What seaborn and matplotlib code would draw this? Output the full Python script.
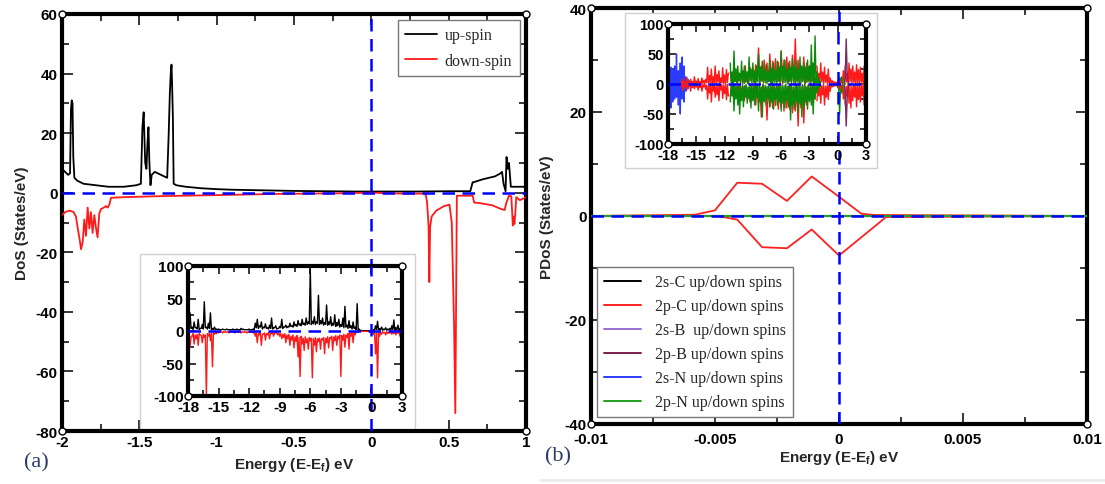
import numpy as np
import matplotlib
matplotlib.use('Agg')
import matplotlib.pyplot as plt
import seaborn as sns
from matplotlib.ticker import MultipleLocator, FuncFormatter
from matplotlib.patches import Rectangle
from matplotlib.lines import Line2D

# ---------------- data: panel (a) main ----------------
up_E = [-2.00, -1.98, -1.96, -1.948, -1.942, -1.937, -1.932, -1.927, -1.92, -1.90,
        -1.86, -1.78, -1.70, -1.60, -1.52, -1.49, -1.48, -1.472, -1.462, -1.454,
        -1.448, -1.441, -1.435, -1.428, -1.42, -1.40, -1.36, -1.32, -1.31, -1.303,
        -1.297, -1.292, -1.288, -1.283, -1.278, -1.26, -1.20, -1.10, -1.00, -0.90,
        -0.70, -0.50, -0.30, -0.10, 0.10, 0.30, 0.50, 0.64, 0.655, 0.66,
        0.72, 0.80, 0.835, 0.845, 0.855, 0.868, 0.874, 0.879, 0.884, 0.89,
        0.896, 0.902, 0.91, 0.93, 0.96, 1.00]
up_D = [8, 7, 6, 6.5, 28, 31, 30, 12, 5, 4,
        3, 2.5, 2, 2, 2.5, 3, 22, 27, 10, 8,
        16, 22, 10, 2.5, 6, 7, 6, 5, 20, 33,
        40, 43, 36, 25, 3, 2.5, 2, 1.5, 1.2, 1.0,
        0.8, 0.6, 0.5, 0.4, 0.4, 0.4, 0.5, 0.5, 3.5, 3.5,
        4.5, 5.5, 6.5, 7, 3, 0.5, 12, 10, 8, 10,
        6, 2, 2, 2, 2, 2]

dn_E = [-2.00, -1.98, -1.95, -1.925, -1.91, -1.898, -1.885, -1.877, -1.866, -1.856,
        -1.845, -1.834, -1.823, -1.813, -1.802, -1.791, -1.78, -1.77, -1.759, -1.748,
        -1.73, -1.716, -1.705, -1.694, -1.683, -1.60, -1.40, -1.20, -1.00, -0.80,
        -0.60, -0.40, -0.20, 0.00, 0.20, 0.35, 0.36, 0.37, 0.375, 0.38,
        0.39, 0.42, 0.47, 0.505, 0.52, 0.526, 0.535, 0.543, 0.547, 0.553,
        0.60, 0.655, 0.665, 0.70, 0.78, 0.84, 0.862, 0.872, 0.89, 0.905,
        0.915, 0.92, 0.925, 0.93, 0.937, 0.96, 1.00]
dn_D = [-7.5, -6.5, -6, -6.5, -8, -12, -16, -19, -16.5, -9,
        -14.5, -5, -12, -6.5, -13.5, -7.5, -12, -15, -7, -5.5,
        -5, -4.5, -5, -4, -1.7, -1.5, -1.2, -1.0, -0.8, -0.6,
        -0.4, -0.3, -0.2, 0, -0.3, -0.3, -3, -11, -30, -11.5,
        -8, -6, -4.5, -4, -10, -24, -45, -74, -45, -1,
        -1, -1, -3.3, -3.5, -4.2, -5.5, -5.8, -3.5, -1, -1.2,
        -11, -8, -10.5, -7.5, -1.5, -2.5, -1.5]

# ---------------- data: panel (a) inset ----------------
# peaks sampled at -18.0, -17.8, ... 3.0 ; troughs sampled midway (-17.9, -17.7, ... 2.9)
insA_start, insA_step = -18.0, 0.2
insA_up = [8, 28, 6, 14, 5, 18, 4, 10, 45, 6,
           12, 28, 4, 6, 3, 3, 2, 3, 2, 3,
           2, 2, 3, 2, 3, 2, 4, 3, 2, 2,
           3, 2, 3, 12, 18, 8, 14, 6, 11, 5,
           9, 20, 5, 8, 4, 7, 18, 6, 9, 7,
           12, 8, 14, 10, 16, 11, 18, 12, 20, 14,
           95, 15, 22, 14, 55, 16, 20, 13, 40, 14,
           22, 12, 25, 13, 18, 10, 20, 38, 9, 16,
           8, 14, 6, 42, 3, 1, 0.5, 0.5, 0.5, 0.5,
           0.5, 2, 8, 15, 4, 6, 3, 5, 3, 4,
           8, 17, 5, 9, 4, 6]
insA_up_low = [3, 4, 2, 5, 3, 2, 4, 3, 5, 3,
               4, 2, 2, 2, 2, 2, 2, 2, 2, 2,
               2, 2, 2, 2, 2, 2, 2, 2, 2, 2,
               2, 2, 2, 5, 4, 6, 3, 5, 4, 3,
               4, 3, 5, 3, 4, 5, 4, 6, 5, 6,
               7, 6, 8, 7, 9, 8, 10, 9, 10, 11,
               10, 11, 10, 12, 10, 11, 9, 10, 9, 10,
               8, 9, 7, 8, 6, 7, 5, 6, 4, 5,
               3, 4, 2, 1, 0.5, 0.5, 0.5, 0.5, 0.5, 0.5,
               0.5, 1, 2, 1, 2, 1, 2, 1, 2, 1,
               2, 1, 2, 1, 2]
insA_dn = [-10, -25, -8, -20, -12, -22, -6, -18, -10, -100,
           -8, -15, -55, -5, -4, -3, -2, -3, -2, -2,
           -3, -2, -2, -3, -2, -2, -3, -2, -2, -3,
           -2, -2, -3, -8, -18, -6, -22, -5, -14, -6,
           -12, -4, -8, -3, -6, -8, -12, -10, -18, -12,
           -22, -14, -26, -16, -40, -70, -20, -30, -18, -28,
           -15, -72, -22, -32, -16, -28, -14, -35, -18, -26,
           -12, -30, -15, -22, -12, -70, -14, -25, -10, -28,
           -8, -18, -6, -2, -1, -0.5, -0.5, -0.5, -0.5, -0.5,
           -0.5, -5, -35, -72, -8, -5, -3, -6, -4, -3,
           -5, -4, -6, -3, -8, -12]
insA_dn_low = [-5, -8, -4, -6, -5, -4, -7, -5, -6, -4,
               -3, -4, -3, -2, -1, -1, -1, -1, -1, -1,
               -1, -1, -1, -1, -1, -1, -1, -1, -1, -1,
               -1, -1, -1, -3, -4, -2, -5, -3, -4, -2,
               -3, -2, -3, -2, -3, -4, -5, -4, -6, -5,
               -8, -6, -9, -7, -10, -8, -11, -9, -12, -10,
               -11, -12, -10, -12, -11, -12, -10, -11, -9, -10,
               -8, -9, -7, -8, -6, -7, -5, -6, -4, -3,
               -2, -2, -1, -0.5, -0.5, -0.5, -0.5, -0.5, -0.5, -0.5,
               -0.5, -1, -2, -3, -2, -1, -2, -1, -2, -1,
               -2, -1, -2, -1, -2]

# ---------------- data: panel (b) main ----------------
pC_up_E = [-0.0100, -0.0058, -0.0050, -0.0041, -0.0031, -0.0021, -0.0011, 0.0000, 0.0009, 0.0014, 0.0100]
pC_up_D = [0, 0.25, 1.1, 6.4, 6.2, 2.9, 7.6, 3.7, 0.45, 0.2, 0]
pC_dn_E = [-0.0100, -0.0049, -0.0041, -0.0031, -0.0021, -0.0011, 0.0000, 0.0019, 0.0100]
pC_dn_D = [0, 0, -0.7, -6.0, -6.2, -2.6, -7.6, -0.2, 0]
zero_E = [-0.0100, 0.0100]
zero_D = [0, 0]

legend_b = ['2s-C up/down spins', '2p-C up/down spins', '2s-B  up/down spins',
            '2p-B up/down spins', '2s-N up/down spins', '2p-N up/down spins']
colors_b = ['#000000', '#ff2020', '#9a6fd0', '#7a1f4f', '#2a3cff', '#22a022']

# ---------------- data: panel (b) inset ----------------
sN_start, sN_step = -18.0, 0.1
sN_up = [25, 30, 18, 28, 12, 25, 8, 30, 15, 50, 10, 22, 6, 35, 8, 45, 5, 30, 6, 12, 3, 8, 2, 5, 2, 3, 1]
sN_up_low = [2, 1, 3, 0, 2, 1, 2, 0, 2, 1, 0, 2, 1, 1, 0, 2, 1, 1, 0, 1, 0, 1, 0, 1, 0, 0]
sN_dn = [-28, -35, -20, -40, -15, -30, -10, -25, -12, -22, -8, -35, -6, -50, -8, -25, -5, -30, -4, -12, -3, -8, -2, -4, -2, -3, -1]
sN_dn_low = [-1, -3, 0, -2, -1, -2, 0, -3, -1, -1, -2, 0, -1, -1, -2, 0, -1, -1, 0, -1, 0, -1, 0, -1, 0, 0]

pCa_start, pCa_step = -16.6, 0.2
pCa_up = [4, 9, 3, 11, 5, 8, 4, 12, 5, 9, 4, 10, 6, 8, 28, 14, 25, 12, 30, 16, 22, 10, 27, 15, 24, 18]
pCa_up_low = [1, 0, 1, 0, 1, 1, 0, 1, 0, 1, 0, 1, 1, 2, 0, 3, 1, 2, 0, 3, 1, 2, 0, 1, 2]
pCa_dn = [-4, -11, -5, -9, -4, -12, -6, -8, -5, -10, -6, -12, -5, -9, -25, -15, -30, -12, -22, -18, -28, -10, -24, -16, -26, -20]
pCa_dn_low = [-1, 0, -1, -1, 0, -1, -1, 0, -1, -1, 0, -1, 0, -2, -3, 0, -2, -1, -3, 0, -2, -1, -3, 0, -1]
pCb_start, pCb_step = -11.4, 0.3
pCb_up = [20, 15, 25, 18, 22, 30, 20, 28, 25, 32, 60, 30, 40, 35, 50, 38, 42, 36, 55, 40, 45, 38, 48, 75, 40, 30, 45, 35, 30, 25, 28]
pCb_up_low = [2, 4, 0, 5, 1, 3, 0, 6, 2, 4, 0, 5, 2, 4, 1, 6, 3, 5, 0, 4, 2, 5, 1, 6, 2, 4, 0, 3, 1, 2]
pCb_dn = [-20, -18, -22, -25, -20, -28, -24, -30, -26, -35, -32, -55, -30, -60, -38, -40, -36, -42, -38, -45, -40, -42, -48, -45, -70, -40, -65, -35, -30, -28, -25]
pCb_dn_low = [-2, -1, -4, 0, -5, -2, -6, -1, -4, -3, -6, -1, -5, -3, -6, -2, -5, -3, -6, -2, -4, -1, -6, -3, -5, -1, -4, -2, -3, -1]
pCc_start, pCc_step = -2.2, 0.2
pCc_up = [30, 18, 35, 20, 28, 15, 25, 10, 6, 4, 3, 5, 8, 10, 22, 30, 18, 35, 25, 30, 20, 32, 24, 28, 18, 30, 22]
pCc_up_low = [3, 1, 4, 0, 3, 1, 2, 0, 1, 0, 0, 1, 0, 1, 2, 3, 0, 4, 1, 3, 0, 2, 1, 3, 0, 2]
pCc_dn = [-28, -20, -32, -18, -35, -22, -26, -12, -5, -4, -3, -6, -10, -12, -25, -35, -20, -32, -40, -28, -22, -38, -26, -30, -20, -35, -25]
pCc_dn_low = [-2, -1, -3, 0, -4, -1, -3, 0, -1, 0, 0, -1, 0, -1, -3, -4, 0, -3, -4, -1, 0, -3, -1, -2, 0, -3]

pN_start, pN_step = -11.4, 0.2
pN_up = [35, 20, 55, 25, 30, 18, 38, 22, 30, 20, 45, 25, 35, 22, 30, 50, 28, 38, 24, 32,
         20, 40, 26, 35, 22, 38, 28, 55, 30, 40, 25, 35, 28, 42, 30, 38, 25, 45, 30, 35,
         28, 40, 30, 65, 35, 80, 20, 10, 4]
pN_up_low = [2, 0, 4, 1, 5, 0, 3, 1, 4, 0, 5, 2, 3, 0, 4, 1, 5, 2, 3, 0,
             4, 2, 0, 3, 1, 4, 0, 5, 2, 3, 0, 4, 1, 5, 0, 3, 2, 1, 4, 0,
             3, 5, 1, 4, 0, 2, 1, 0]
pN_dn = [-30, -20, -45, -25, -35, -50, -28, -38, -22, -32, -25, -40, -28, -35, -22, -45, -30, -55, -28, -35,
         -25, -38, -30, -42, -26, -35, -30, -45, -32, -40, -28, -38, -60, -35, -42, -30, -48, -32, -55, -38,
         -30, -42, -28, -35, -50, -25, -15, -8, -4]
pN_dn_low = [-1, -3, 0, -4, -2, -5, 0, -3, -1, -5, 0, -2, -4, 0, -3, -1, -5, 0, -2, -4,
             0, -3, -1, -5, 0, -2, -4, -1, -3, 0, -4, -2, 0, -5, -1, -3, 0, -4, -2, 0,
             -5, -1, -3, -2, 0, -1, -1, 0]
pNf_start, pNf_step = 0.0, 0.1
pNf_up = [2, 5, 10, 6, 12, 4, 2, 1, 0]
pNf_dn = [-2, -8, -50, -10, -15, -5, -3, -1, 0]

pB_E = [0.7, 0.8, 0.9, 1.0, 1.1, 1.2]
pB_up = [2, 10, 75, 20, 5, 1]
pB_dn = [-2, -15, -70, -25, -5, -1]

# ---------------- style ----------------
sns.set_theme(style='ticks')
plt.rcParams['font.family'] = ['Liberation Sans', 'DejaVu Sans']
plt.rcParams['axes.unicode_minus'] = False
plt.rcParams['mathtext.fontset'] = 'custom'
plt.rcParams['mathtext.bf'] = 'Liberation Sans:bold'
plt.rcParams['mathtext.rm'] = 'Liberation Sans:bold'

W, H = 1105, 485
fig = plt.figure(figsize=(W / 100, H / 100), dpi=100)
fig.patch.set_facecolor('white')


def frac(l, t, r, b):
    return [l / W, 1 - b / H, (r - l) / W, (b - t) / H]


axA = fig.add_axes(frac(62, 15, 526, 432))
axB = fig.add_axes(frac(591, 9, 1087, 425))
insA = fig.add_axes(frac(188, 267, 402, 397))
insB = fig.add_axes(frac(668, 25, 866, 145))

fmt = FuncFormatter(lambda v, p: f'{v:g}' if abs(v) > 1e-12 else '0')


def style(ax, frame_lw, fs, maj, mino_len):
    for s in ax.spines.values():
        s.set_linewidth(frame_lw)
        s.set_color('black')
    ax.tick_params(which='both', direction='in', top=True, right=True,
                   width=1.1, colors='black', labelsize=fs, pad=3)
    ax.tick_params(which='major', length=maj)
    ax.tick_params(which='minor', length=mino_len)
    for lab in ax.get_xticklabels() + ax.get_yticklabels():
        lab.set_fontweight('bold')
    ax.xaxis.set_major_formatter(fmt)
    ax.yaxis.set_major_formatter(fmt)
    ax.set_facecolor('white')
    ax.grid(False)
    ax.plot([0, 1, 0, 1], [0, 0, 1, 1], 'o', transform=ax.transAxes, ms=5,
            mfc='white', mec='black', mew=1, clip_on=False, zorder=20)


def lp(ax, x, y, c, lw, z=2):
    sns.lineplot(x=np.asarray(x, float), y=np.asarray(y, float), ax=ax, color=c, lw=lw,
                 estimator=None, sort=False, legend=False, zorder=z)


def grid(start, step, vals):
    return start + step * np.arange(len(vals))


def spiky(start, step, peaks, lows):
    """Arrange read-off peak values and the trough values between them along energy."""
    xp = grid(start, step, peaks)
    xl = start + step * (np.arange(len(lows)) + 0.5)
    x = np.concatenate([xp, xl])
    y = np.concatenate([np.asarray(peaks, float), np.asarray(lows, float)])
    o = np.argsort(x, kind='stable')
    return x[o], y[o]


dash = dict(color='#0000ff', lw=1.8, dashes=(5, 3))

# ---------------- panel (a) ----------------
lp(axA, up_E, up_D, 'black', 1.3, 3)
lp(axA, dn_E, dn_D, '#ff1a1a', 1.3, 3)
axA.axhline(0, zorder=4, **dash)
axA.axvline(0, zorder=4, **dash)
axA.set_xlim(-2, 1)
axA.set_ylim(-80, 60)
axA.xaxis.set_major_locator(MultipleLocator(0.5))
axA.xaxis.set_minor_locator(MultipleLocator(0.25))
axA.yaxis.set_major_locator(MultipleLocator(20))
axA.yaxis.set_minor_locator(MultipleLocator(10))
style(axA, 3.0, 11, 8, 5)
axA.set_xlabel('Energy (E-E$_\\mathbf{f}$) eV', fontsize=11, fontweight='bold', labelpad=4)
axA.set_ylabel('DoS (States/eV)', fontsize=11, fontweight='bold', labelpad=5)
axA.add_patch(Rectangle((140 / W, 1 - 431 / H), 275 / W, 176 / H, transform=fig.transFigure,
                        facecolor='white', edgecolor='#d0d0d0', lw=1, zorder=1.5, clip_on=False))
hA = [Line2D([], [], color='black', lw=1.3), Line2D([], [], color='#ff1a1a', lw=1.3)]
legA = axA.legend(hA, ['up-spin', 'down-spin'], loc='upper right', bbox_to_anchor=(0.993, 0.993),
                  prop={'family': 'Liberation Serif', 'size': 11.5}, frameon=True, fancybox=False,
                  edgecolor='#777777', framealpha=1, handlelength=2.0, handletextpad=0.5,
                  borderpad=0.45, labelspacing=0.6, borderaxespad=0.2)
legA.get_frame().set_linewidth(1.0)
legA.set_zorder(30)

# inset (a)
x, y = spiky(insA_start, insA_step, insA_up, insA_up_low)
lp(insA, x, y, 'black', 1.0)
x, y = spiky(insA_start, insA_step, insA_dn, insA_dn_low)
lp(insA, x, y, '#ff1a1a', 1.0)
insA.axhline(0, zorder=4, **dash)
insA.axvline(0, zorder=4, **dash)
insA.set_xlim(-18, 3)
insA.set_ylim(-100, 100)
insA.xaxis.set_major_locator(MultipleLocator(3))
insA.xaxis.set_minor_locator(MultipleLocator(1.5))
insA.yaxis.set_major_locator(MultipleLocator(50))
insA.yaxis.set_minor_locator(MultipleLocator(25))
style(insA, 3.0, 11, 6, 4)
insA.set_zorder(5)

# ---------------- panel (b) ----------------
lp(axB, zero_E, zero_D, colors_b[0], 1.3, 2)
lp(axB, pC_up_E, pC_up_D, colors_b[1], 1.3, 3)
lp(axB, pC_dn_E, pC_dn_D, colors_b[1], 1.3, 3)
lp(axB, zero_E, zero_D, colors_b[2], 1.3, 2)
lp(axB, zero_E, zero_D, colors_b[3], 1.3, 2)
lp(axB, zero_E, zero_D, colors_b[4], 1.3, 2)
lp(axB, zero_E, zero_D, colors_b[5], 1.6, 3.5)
axB.axhline(0, zorder=4, **dash)
axB.axvline(0, zorder=4, **dash)
axB.set_xlim(-0.01, 0.01)
axB.set_ylim(-40, 40)
axB.xaxis.set_major_locator(MultipleLocator(0.005))
axB.xaxis.set_minor_locator(MultipleLocator(0.0025))
axB.yaxis.set_major_locator(MultipleLocator(20))
axB.yaxis.set_minor_locator(MultipleLocator(10))
style(axB, 3.0, 11, 8, 5)
axB.tick_params(axis='x', pad=5.5)
axB.set_xlabel('Energy (E-E$_\\mathbf{f}$) eV', fontsize=11, fontweight='bold', labelpad=2)
axB.set_ylabel('PDoS (States/eV)', fontsize=11, fontweight='bold', labelpad=8)
axB.add_patch(Rectangle((625 / W, 1 - 169 / H), 252 / W, 155 / H, transform=fig.transFigure,
                        facecolor='white', edgecolor='#d0d0d0', lw=1, zorder=1.5, clip_on=False))
hB = [Line2D([], [], color=c, lw=1.4) for c in colors_b]
legB = axB.legend(hB, legend_b, loc='lower left', bbox_to_anchor=(0.005, 0.008),
                  prop={'family': 'Liberation Serif', 'size': 11.5}, frameon=True, fancybox=False,
                  edgecolor='#777777', framealpha=1, handlelength=2.3, handletextpad=0.9,
                  borderpad=0.45, labelspacing=0.5, borderaxespad=0.2)
legB.get_frame().set_linewidth(1.0)
legB.set_zorder(30)

# inset (b)
for st, sp, u, ul, d, dl, c in [
        (sN_start, sN_step, sN_up, sN_up_low, sN_dn, sN_dn_low, colors_b[4]),
        (pCa_start, pCa_step, pCa_up, pCa_up_low, pCa_dn, pCa_dn_low, '#ff1a1a'),
        (pCb_start, pCb_step, pCb_up, pCb_up_low, pCb_dn, pCb_dn_low, '#ff1a1a'),
        (pCc_start, pCc_step, pCc_up, pCc_up_low, pCc_dn, pCc_dn_low, '#ff1a1a')]:
    x, y = spiky(st, sp, u, ul)
    lp(insB, x, y, c, 1.0)
    x, y = spiky(st, sp, d, dl)
    lp(insB, x, y, c, 1.0)
lp(insB, pB_E, pB_up, '#7a2a62', 1.0)
lp(insB, pB_E, pB_dn, '#7a2a62', 1.0)
x, y = spiky(pN_start, pN_step, pN_up, pN_up_low)
lp(insB, x, y, '#0a8a0a', 1.0)
x, y = spiky(pN_start, pN_step, pN_dn, pN_dn_low)
lp(insB, x, y, '#0a8a0a', 1.0)
lp(insB, grid(pNf_start, pNf_step, pNf_up), pNf_up, '#0a8a0a', 1.0)
lp(insB, grid(pNf_start, pNf_step, pNf_dn), pNf_dn, '#0a8a0a', 1.0)
insB.axhline(0, zorder=4, **dash)
insB.axvline(0, zorder=4, **dash)
insB.set_xlim(-18, 3)
insB.set_ylim(-100, 100)
insB.xaxis.set_major_locator(MultipleLocator(3))
insB.xaxis.set_minor_locator(MultipleLocator(1.5))
insB.yaxis.set_major_locator(MultipleLocator(50))
insB.yaxis.set_minor_locator(MultipleLocator(25))
style(insB, 3.0, 10.5, 6, 4)
insB.set_zorder(5)

# panel letters
fig.text(24 / W, 1 - 463 / H, '(a)', fontsize=16, family='Liberation Serif', color='#243b6b',
         ha='left', va='center')
fig.text(545 / W, 1 - 457 / H, '(b)', fontsize=16, family='Liberation Serif', color='#243b6b',
         ha='left', va='center')
fig.add_artist(Line2D([540 / W, 1], [1 - 481 / H, 1 - 481 / H], transform=fig.transFigure,
                      color='#ececec', lw=2))

fig.savefig('out.png', dpi=100, facecolor='white')
